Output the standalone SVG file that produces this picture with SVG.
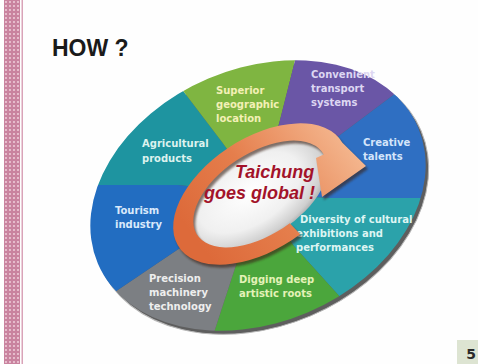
<svg xmlns="http://www.w3.org/2000/svg" width="478" height="364" viewBox="0 0 478 364">
<defs>
<style>
.lbl{font-family:"DejaVu Sans","Liberation Sans",sans-serif;font-weight:bold;font-size:10px}
.title{font-family:"Liberation Sans",Arial,sans-serif;font-weight:bold;font-size:23px;fill:#1a1a1a}
.hub{font-family:"Liberation Sans",Arial,sans-serif;font-weight:bold;font-style:italic;font-size:18px;fill:#a3132a}
</style>
<pattern id="stripe" width="4" height="4" patternUnits="userSpaceOnUse">
<rect width="4" height="4" fill="#c9839f"/>
<circle cx="2" cy="2" r="1.05" fill="#eecbd8"/>
</pattern>
<clipPath id="disc">
<ellipse cx="258" cy="195.5" rx="174" ry="127" transform="rotate(-23 258 195.5)"/>
</clipPath>
<radialGradient id="silver" cx="0.45" cy="0.42" r="0.62">
<stop offset="0" stop-color="#ffffff"/>
<stop offset="0.6" stop-color="#f0f0f0"/>
<stop offset="0.88" stop-color="#cfcfcf"/>
<stop offset="1" stop-color="#a6a6a6"/>
</radialGradient>
<linearGradient id="orange" x1="0.05" y1="0.7" x2="0.95" y2="0.2">
<stop offset="0" stop-color="#dd6a3a"/>
<stop offset="0.45" stop-color="#e57e4c"/>
<stop offset="1" stop-color="#f4b68e"/>
</linearGradient>
<filter id="blur" x="-10%" y="-10%" width="120%" height="120%">
<feGaussianBlur stdDeviation="1.2"/>
</filter>
</defs>

<rect width="478" height="364" fill="#fefefe"/>
<g id="side-stripe">
<rect x="4" y="0" width="16" height="364" fill="url(#stripe)"/>
<rect x="21.5" y="0" width="1.5" height="364" fill="#d9a3b8"/>
</g>

<text class="title" x="52" y="56">HOW ?</text>

<g id="disc-rim">
<ellipse cx="261" cy="199" rx="174" ry="127" transform="rotate(-23 261 199)" fill="#5e5e5e" stroke="#b8b8b8" stroke-width="1"/>
</g>

<g id="sectors" clip-path="url(#disc)">
<g id="agricultural">
<polygon points="260,194 178,185 -20,185 101,-17 222,142" fill="#1e94a0"/>
</g>
<g id="superior">
<polygon points="260,194 222,142 101,-17 329,-74 280,120" fill="#7fb541"/>
</g>
<g id="convenient">
<polygon points="260,194 280,120 329,-74 500,15 340,135" fill="#6a56a6"/>
</g>
<g id="creative">
<polygon points="260,194 340,135 500,15 560,198 330,198" fill="#2f6fc2"/>
</g>
<g id="diversity">
<polygon points="260,194 330,198 560,198 427,393 293,245" fill="#2ba2aa"/>
</g>
<g id="digging">
<polygon points="260,194 293,245 427,393 175,452 237,262" fill="#4ba63c"/>
</g>
<g id="precision">
<polygon points="260,194 237,262 175,452 14,360 180,248" fill="#7c7f83"/>
</g>
<g id="tourism">
<polygon points="260,194 180,248 14,360 -20,185 178,185" fill="#226dc1"/>
</g>
</g>

<g id="labels">
<text class="lbl" fill="#dcf2ee"><tspan x="142" y="147">Agricultural</tspan><tspan x="142" y="162">products</tspan></text>
<text class="lbl" fill="#f3f0b6"><tspan x="216" y="93.5">Superior</tspan><tspan x="216" y="107.5">geographic</tspan><tspan x="216" y="121.5">location</tspan></text>
<text class="lbl" fill="#ddd7f2"><tspan x="311" y="77.5">Convenient</tspan><tspan x="311" y="91.5">transport</tspan><tspan x="311" y="105.5">systems</tspan></text>
<text class="lbl" fill="#d4e5fa"><tspan x="363" y="146">Creative</tspan><tspan x="363" y="160">talents</tspan></text>
<text class="lbl" fill="#def5f3"><tspan x="300" y="222.5">Diversity of cultural</tspan><tspan x="296" y="236.5">exhibitions and</tspan><tspan x="296" y="250.5">performances</tspan></text>
<text class="lbl" fill="#e4f2b8"><tspan x="239" y="283">Digging deep</tspan><tspan x="239" y="297">artistic roots</tspan></text>
<text class="lbl" fill="#eeeeee"><tspan x="149" y="281.5">Precision</tspan><tspan x="149" y="295.5">machinery</tspan><tspan x="149" y="309.5">technology</tspan></text>
<text class="lbl" fill="#d9e9fb"><tspan x="115" y="214">Tourism</tspan><tspan x="115" y="228">industry</tspan></text>
</g>

<g id="hub">
<ellipse cx="260" cy="194" rx="76" ry="42" transform="rotate(-33 260 194)" fill="url(#silver)"/>
</g>

<g id="connectors">
<path d="M300.2 234.2 A97 56 -33 1 1 342.4 142.8 L366 166 L322 197 L316 158 L323.7 154.4 A75 41 -33 1 0 289.8 223.2 Z" transform="translate(2 3)" fill="#3a2418" opacity="0.6" filter="url(#blur)"/>
<path id="cycle-arrow" d="M300.2 234.2 A97 56 -33 1 1 342.4 142.8 L366 166 L322 197 L316 158 L323.7 154.4 A75 41 -33 1 0 289.8 223.2 Z" fill="url(#orange)"/>
</g>

<g id="center-text">
<text class="hub"><tspan x="235" y="178">Taichung</tspan><tspan x="204" y="199">goes global !</tspan></text>
</g>

<g id="page-number">
<rect x="457" y="340" width="21" height="24" fill="#dde4d2"/>
<text x="471" y="359" text-anchor="middle" font-family="DejaVu Sans, sans-serif" font-weight="bold" font-size="14" fill="#2a2a2a">5</text>
</g>
</svg>
